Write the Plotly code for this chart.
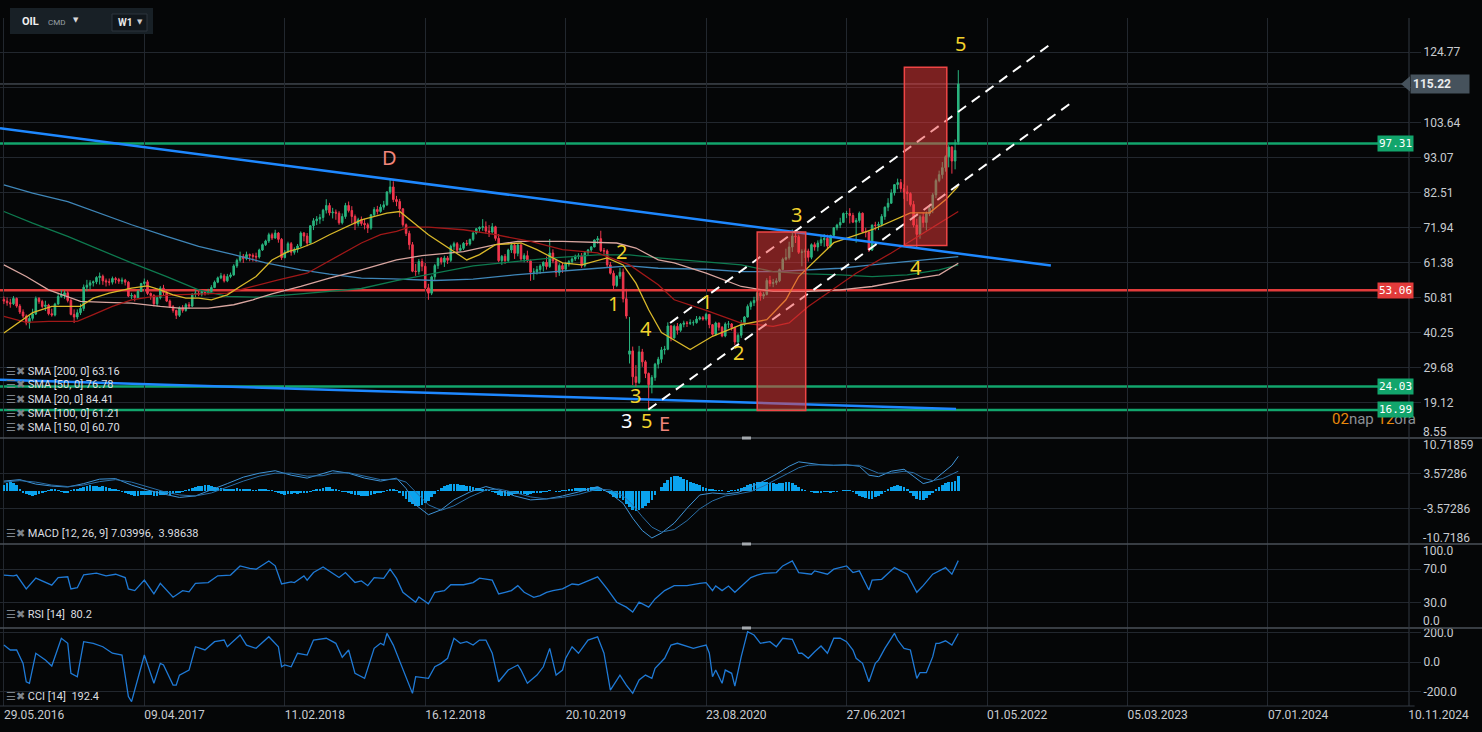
import pandas as pd
import plotly.graph_objects as go
from plotly.subplots import make_subplots

# OIL (CMD) weekly bars, first bar 05.06.2016
first_bar = pd.Timestamp('2016-06-05')

def bar_date(i):
    return first_bar + pd.Timedelta(days=7 * i)

opens = [
    50.3, 49.8, 49.3, 49.0, 50.6, 48.3, 46.5, 45.3, 43.2, 44.6,
    45.9, 50.6, 49.7, 48.2, 48.6, 46.0, 45.6, 48.9, 51.2, 51.6,
    52.3, 50.0, 45.8, 45.0, 46.3, 47.6, 54.0, 54.6, 55.3, 55.6,
    56.9, 57.3, 55.9, 55.6, 55.5, 56.6, 56.3, 55.8, 56.1, 55.5,
    51.3, 51.5, 50.9, 52.7, 55.1, 55.6, 52.1, 51.5, 49.0, 50.8,
    53.7, 52.4, 49.8, 48.1, 47.0, 45.5, 47.8, 47.0, 48.7, 48.3,
    51.9, 52.2, 51.9, 52.6, 52.3, 52.7, 53.9, 55.5, 56.8, 57.4,
    55.9, 57.2, 57.7, 60.4, 62.1, 63.3, 62.6, 63.8, 63.6, 63.3,
    63.1, 65.2, 66.8, 67.9, 69.8, 68.8, 70.3, 68.4, 62.9, 64.6,
    67.1, 64.5, 65.4, 66.4, 70.3, 69.4, 67.3, 72.5, 74.0, 74.5,
    75.0, 77.2, 78.6, 76.4, 76.6, 76.3, 73.4, 75.3, 78.6, 77.1,
    75.3, 73.1, 74.3, 73.2, 72.8, 71.8, 75.8, 77.4, 76.8, 78.1,
    78.8, 82.7, 84.2, 80.4, 79.8, 77.6, 72.8, 70.2, 66.8, 58.8,
    58.7, 61.7, 60.3, 53.8, 52.2, 57.1, 60.5, 62.7, 61.6, 62.8,
    62.1, 66.3, 67.1, 65.1, 65.7, 67.2, 67.0, 68.4, 70.3, 71.6,
    72.0, 72.2, 70.9, 70.6, 72.2, 68.7, 62.0, 63.3, 62.0, 65.2,
    66.6, 64.2, 66.7, 62.5, 63.5, 61.9, 58.5, 58.6, 59.3, 60.4,
    61.5, 60.2, 64.3, 61.9, 58.4, 60.5, 59.4, 61.0, 61.7, 62.5,
    63.3, 63.4, 60.5, 64.4, 65.2, 66.1, 68.2, 68.6, 65.0, 64.9,
    60.7, 58.2, 54.5, 57.3, 58.5, 50.5, 33.8, 34.8, 27.0, 25.3,
    34.5, 31.5, 28.0, 24.6, 26.8, 30.8, 32.3, 35.1, 35.3, 42.3,
    38.7, 42.2, 41.0, 42.8, 43.2, 43.1, 43.3, 43.3, 44.4, 44.8,
    44.4, 45.8, 42.7, 39.8, 43.2, 41.9, 39.3, 42.9, 42.9, 41.8,
    37.5, 39.5, 42.8, 45.0, 48.2, 49.3, 50.0, 52.3, 51.3, 51.8,
    56.0, 55.1, 55.4, 55.9, 59.3, 62.4, 62.9, 66.1, 69.4, 69.2,
    64.5, 64.6, 64.9, 63.0, 66.8, 66.1, 67.3, 68.3, 68.7, 66.4,
    69.6, 71.9, 72.7, 73.5, 76.2, 76.2, 75.6, 73.6, 74.1, 76.3,
    70.7, 70.6, 65.2, 72.7, 72.6, 72.9, 75.3, 78.1, 79.3, 82.4,
    84.9, 85.5, 83.7, 82.7, 82.2, 78.9, 72.7, 69.9, 75.2, 73.5,
    76.1, 77.8, 81.8, 86.1, 87.9, 90.0, 93.3, 96.2, 92.0, 97.8,
]
highs = [
    51.2, 50.9, 50.5, 51.3, 50.9, 48.9, 47.3, 45.8, 45.4, 47.5,
    51.2, 51.0, 50.2, 49.9, 49.0, 47.5, 49.3, 52.3, 53.1, 53.0,
    52.8, 50.5, 47.3, 47.3, 49.0, 54.8, 56.2, 56.1, 56.0, 57.3,
    58.4, 57.8, 56.6, 56.6, 57.2, 57.1, 56.8, 56.9, 56.5, 55.8,
    52.3, 51.9, 53.2, 55.3, 56.6, 56.2, 52.4, 51.9, 51.1, 54.3,
    54.7, 52.9, 50.3, 48.6, 47.2, 48.2, 48.6, 49.2, 49.5, 52.2,
    53.2, 53.3, 53.0, 53.1, 53.5, 54.6, 56.0, 57.2, 58.3, 58.0,
    58.0, 58.4, 60.9, 62.6, 64.7, 64.0, 64.7, 64.1, 64.2, 64.4,
    65.6, 67.2, 68.3, 70.4, 70.4, 71.3, 70.6, 68.8, 65.2, 67.7,
    67.6, 66.0, 67.0, 70.8, 70.6, 70.3, 72.7, 74.8, 75.4, 76.0,
    77.6, 80.5, 79.4, 77.9, 77.4, 76.9, 76.2, 79.4, 79.8, 78.4,
    75.9, 74.9, 75.3, 74.6, 73.4, 76.0, 78.1, 78.5, 79.0, 80.0,
    82.9, 86.3, 85.9, 81.5, 80.6, 77.8, 73.2, 71.0, 67.6, 61.0,
    62.5, 62.6, 61.3, 55.0, 57.5, 61.0, 62.9, 63.1, 63.5, 63.4,
    66.8, 67.7, 67.6, 66.8, 67.6, 68.2, 68.6, 70.6, 71.8, 72.3,
    74.5, 73.8, 72.7, 73.3, 72.5, 70.0, 63.7, 64.0, 65.6, 67.3,
    67.4, 67.0, 67.0, 64.2, 65.0, 62.3, 59.7, 60.4, 60.9, 61.8,
    63.2, 68.5, 65.4, 62.3, 61.2, 61.3, 61.6, 62.2, 63.0, 63.8,
    64.2, 64.3, 64.8, 65.5, 66.4, 68.4, 69.4, 71.0, 65.8, 65.4,
    61.6, 59.0, 57.6, 59.8, 59.6, 53.5, 45.0, 36.1, 30.5, 36.3,
    35.4, 32.0, 28.3, 27.5, 31.2, 33.0, 36.0, 36.3, 43.4, 42.6,
    42.7, 43.2, 43.2, 43.9, 43.8, 44.3, 44.0, 45.3, 45.3, 45.3,
    46.3, 45.9, 42.9, 43.6, 43.3, 42.3, 43.4, 43.8, 43.2, 42.1,
    40.1, 44.1, 45.3, 48.8, 49.9, 51.1, 52.5, 52.8, 52.5, 56.7,
    57.4, 56.5, 56.7, 59.6, 62.9, 65.6, 67.7, 71.4, 71.3, 69.8,
    65.4, 65.6, 65.6, 67.2, 67.5, 68.1, 69.4, 70.0, 69.8, 69.8,
    72.1, 73.1, 74.9, 76.5, 77.0, 77.8, 76.4, 74.8, 76.8, 76.5,
    71.9, 70.9, 72.9, 73.7, 73.7, 76.0, 78.3, 80.8, 83.5, 85.0,
    86.7, 86.6, 85.0, 84.6, 82.6, 80.0, 74.6, 75.8, 76.5, 76.8,
    79.0, 82.4, 86.7, 89.1, 91.7, 93.7, 96.8, 96.5, 98.5, 119.4,
]
lows = [
    48.9, 48.4, 47.8, 48.6, 47.8, 45.9, 44.7, 42.5, 41.5, 43.9,
    45.6, 49.0, 47.6, 46.8, 45.5, 45.1, 45.2, 48.7, 50.8, 50.5,
    49.4, 45.5, 43.2, 44.3, 45.6, 46.8, 52.8, 53.2, 54.2, 54.9,
    54.8, 54.7, 54.2, 54.5, 54.8, 55.1, 55.0, 54.9, 54.5, 51.0,
    50.4, 49.7, 50.6, 52.5, 54.4, 51.6, 50.2, 48.2, 48.2, 50.3,
    51.4, 49.5, 47.7, 46.3, 44.4, 45.0, 46.3, 46.6, 47.5, 48.0,
    51.0, 51.3, 51.2, 51.5, 51.8, 52.4, 53.7, 55.2, 56.4, 55.4,
    55.5, 56.7, 57.4, 59.8, 61.5, 61.3, 62.1, 61.8, 61.7, 61.6,
    62.6, 64.9, 66.4, 67.3, 68.2, 68.6, 67.4, 62.2, 62.7, 64.3,
    63.5, 63.8, 64.4, 65.9, 67.8, 66.3, 67.1, 71.2, 72.7, 73.1,
    73.9, 76.2, 75.6, 74.7, 74.3, 72.8, 72.9, 74.6, 76.5, 73.2,
    71.2, 72.3, 72.5, 71.4, 70.3, 71.3, 75.2, 75.9, 76.4, 77.3,
    78.5, 82.0, 79.6, 78.4, 75.1, 72.2, 69.4, 65.3, 58.5, 57.4,
    57.8, 58.8, 53.4, 50.2, 51.6, 56.0, 59.5, 60.8, 60.1, 61.0,
    61.6, 65.2, 64.5, 64.9, 65.2, 66.4, 66.5, 67.9, 69.9, 70.7,
    71.0, 70.1, 69.1, 70.1, 68.0, 61.5, 60.7, 61.0, 61.6, 64.3,
    62.5, 63.3, 61.8, 61.5, 61.5, 55.9, 56.2, 57.8, 58.0, 58.7,
    59.3, 59.8, 61.2, 57.0, 57.4, 58.3, 58.8, 60.2, 61.0, 61.9,
    62.4, 59.8, 60.0, 63.6, 64.6, 66.0, 67.1, 64.6, 63.4, 59.9,
    57.8, 53.3, 54.0, 56.5, 49.4, 44.5, 31.0, 24.5, 24.0, 24.8,
    30.0, 26.6, 17.0, 22.0, 25.8, 29.5, 31.2, 33.7, 35.0, 37.7,
    38.5, 39.7, 40.5, 41.9, 42.0, 42.6, 42.4, 43.0, 44.0, 43.9,
    43.9, 41.6, 39.4, 39.3, 40.9, 38.9, 38.9, 41.6, 40.9, 36.5,
    37.1, 38.7, 42.3, 44.8, 47.2, 48.3, 49.5, 49.9, 50.4, 51.5,
    54.2, 54.0, 54.7, 55.5, 59.1, 62.0, 62.3, 64.6, 67.3, 64.0,
    60.3, 62.8, 61.7, 62.4, 65.0, 64.8, 66.4, 66.2, 65.4, 65.9,
    68.8, 71.1, 71.8, 73.3, 74.8, 73.2, 73.3, 67.4, 73.4, 70.3,
    69.0, 64.6, 64.9, 71.1, 71.2, 72.3, 74.3, 76.9, 79.1, 81.6,
    83.5, 82.6, 80.6, 79.9, 78.3, 72.0, 65.7, 68.6, 72.0, 71.1,
    75.4, 76.3, 80.8, 85.6, 86.7, 88.8, 90.1, 88.2, 89.5, 97.0,
]
closes = [
    49.8, 49.3, 49.0, 50.6, 48.3, 46.5, 45.3, 43.2, 44.6, 45.9,
    50.6, 49.7, 48.2, 48.6, 46.0, 45.6, 48.9, 51.2, 51.6, 52.3,
    50.0, 45.8, 45.0, 46.3, 47.6, 54.0, 54.6, 55.3, 55.6, 56.9,
    57.3, 55.9, 55.6, 55.5, 56.6, 56.3, 55.8, 56.1, 55.5, 51.3,
    51.5, 50.9, 52.7, 55.1, 55.6, 52.1, 51.5, 49.0, 50.8, 53.7,
    52.4, 49.8, 48.1, 47.0, 45.5, 47.8, 47.0, 48.7, 48.3, 51.9,
    52.2, 51.9, 52.6, 52.3, 52.7, 53.9, 55.5, 56.8, 57.4, 55.9,
    57.2, 57.7, 60.4, 62.1, 63.3, 62.6, 63.8, 63.6, 63.3, 63.1,
    65.2, 66.8, 67.9, 69.8, 68.8, 70.3, 68.4, 62.9, 64.6, 67.1,
    64.5, 65.4, 66.4, 70.3, 69.4, 67.3, 72.5, 74.0, 74.5, 75.0,
    77.2, 78.6, 76.4, 76.6, 76.3, 73.4, 75.3, 78.6, 77.1, 75.3,
    73.1, 74.3, 73.2, 72.8, 71.8, 75.8, 77.4, 76.8, 78.1, 78.8,
    82.7, 84.2, 80.4, 79.8, 77.6, 72.8, 70.2, 66.8, 58.8, 58.7,
    61.7, 60.3, 53.8, 52.2, 57.1, 60.5, 62.7, 61.6, 62.8, 62.1,
    66.3, 67.1, 65.1, 65.7, 67.2, 67.0, 68.4, 70.3, 71.6, 72.0,
    72.2, 70.9, 70.6, 72.2, 68.7, 62.0, 63.3, 62.0, 65.2, 66.6,
    64.2, 66.7, 62.5, 63.5, 61.9, 58.5, 58.6, 59.3, 60.4, 61.5,
    60.2, 64.3, 61.9, 58.4, 60.5, 59.4, 61.0, 61.7, 62.5, 63.3,
    63.4, 60.5, 64.4, 65.2, 66.1, 68.2, 68.6, 65.0, 64.9, 60.7,
    58.2, 54.5, 57.3, 58.5, 50.5, 45.3, 34.8, 27.0, 25.3, 34.5,
    31.5, 28.0, 24.6, 26.8, 30.8, 32.3, 35.1, 35.3, 42.3, 38.7,
    42.2, 41.0, 42.8, 43.2, 43.1, 43.3, 43.3, 44.4, 44.8, 44.4,
    45.8, 42.7, 39.8, 43.2, 41.9, 39.3, 42.9, 42.9, 41.8, 37.5,
    39.5, 42.8, 45.0, 48.2, 49.3, 50.0, 52.3, 51.3, 51.8, 56.0,
    55.1, 55.4, 55.9, 59.3, 62.4, 62.9, 66.1, 69.4, 69.2, 64.5,
    64.6, 64.9, 63.0, 66.8, 66.1, 67.3, 68.3, 68.7, 66.4, 69.6,
    71.9, 72.7, 73.5, 76.2, 76.2, 75.6, 73.6, 74.1, 76.3, 70.7,
    70.6, 65.2, 72.7, 72.6, 72.9, 75.3, 78.1, 79.3, 82.4, 84.9,
    85.5, 83.7, 82.7, 82.2, 78.9, 72.7, 69.9, 75.2, 73.5, 76.1,
    77.8, 81.8, 86.1, 87.9, 90.0, 93.3, 96.2, 92.0, 95.2, 115.2,
]

# moving averages (bar index, value)
sma20_idx = [0, 5, 9, 15, 24, 28, 33, 40, 45, 49, 53, 57, 61, 65, 70, 74, 79, 84, 89, 93,
             97, 102, 112, 120, 124, 133, 140, 145, 149, 154, 162, 167, 175, 181, 189, 194,
             198, 202, 206, 215, 222, 231, 239, 245, 249, 260, 272, 284, 290, 295, 299]
sma20_val = [40.2, 43.7, 46.3, 48.2, 48.2, 50.7, 52.2, 53.7, 54.4, 53.2, 51.7, 50.7, 50.7, 50.2,
             51.7, 54.2, 57.2, 62.2, 64.7, 65.8, 67.3, 69.8, 74.3, 76.3, 76.8, 69.8, 65.3, 62.2,
             63.8, 66.8, 67.3, 65.3, 61.3, 60.7, 62.8, 60.7, 55.2, 47.2, 40.3, 35.2, 39.2, 42.7,
             44.2, 50.2, 57.2, 67.4, 71.3, 76.4, 76.4, 80.3, 84.4]
sma50_idx = [0, 7, 14, 23, 28, 34, 40, 47, 53, 61, 70, 78, 86, 95, 102, 112, 118, 123, 127, 133,
             144, 154, 165, 175, 186, 196, 205, 210, 220, 231, 241, 246, 252, 258, 267, 278, 288, 299]
sma50_val = [45.2, 43.4, 43.7, 43.7, 45.7, 48.2, 50.2, 51.2, 51.7, 52.0, 52.2, 54.2, 56.2, 58.2,
             62.0, 67.3, 69.8, 70.8, 72.1, 72.1, 71.3, 69.8, 67.8, 65.3, 64.3, 60.7, 54.7, 50.2,
             47.0, 43.2, 42.2, 43.2, 48.2, 52.2, 58.2, 64.3, 70.3, 76.8]
sma100_idx = [0, 7, 14, 24, 32, 40, 49, 55, 64, 72, 78, 84, 93, 102, 112, 123, 131, 144, 154, 161,
              175, 192, 198, 205, 210, 220, 231, 241, 252, 262, 272, 283, 293, 299]
sma100_val = [60.7, 57.2, 53.2, 49.7, 49.4, 49.2, 48.2, 47.7, 47.7, 48.7, 50.2, 52.0, 54.2, 56.7,
              59.2, 62.2, 63.5, 64.7, 66.8, 67.8, 67.8, 67.3, 65.8, 62.2, 61.3, 58.2, 54.2, 52.7,
              52.7, 53.2, 54.2, 56.2, 57.7, 61.2]
sma150_idx = [0, 9, 20, 30, 40, 51, 61, 70, 80, 93, 102, 112, 123, 135, 147, 160, 172, 186, 196, 205,
              210, 220, 231, 241, 252, 262, 272, 283, 293, 299]
sma150_val = [76.8, 73.3, 69.3, 65.3, 61.3, 57.2, 53.2, 51.2, 51.0, 52.0, 52.7, 53.6, 56.0, 58.2,
              60.4, 61.7, 62.8, 63.7, 63.7, 62.8, 62.4, 61.7, 60.7, 58.7, 58.0, 57.7, 57.2, 57.7,
              59.2, 60.7]
sma200_idx = [0, 9, 20, 30, 40, 51, 61, 72, 82, 93, 102, 112, 122, 135, 147, 160, 172, 186, 196, 205,
              220, 231, 241, 252, 262, 272, 283, 299]
sma200_val = [84.8, 82.3, 79.8, 76.3, 72.8, 69.3, 66.3, 63.8, 61.3, 59.2, 57.9, 56.7, 56.5, 56.0,
              56.4, 57.7, 58.7, 59.7, 60.4, 59.7, 59.4, 58.7, 58.7, 59.2, 59.7, 60.7, 61.7, 63.2]

# MACD [12, 26, 9]
macd_hist = [
    1.2, 1.6, 1.9, 1.7, 1.2, 0.4, -0.3, -0.6, -0.9, -1.0,
    -0.8, -0.6, -0.4, -0.2, 0.1, 0.3, 0.4, 0.2, -0.2, -0.4,
    -0.3, 0.1, 0.3, 0.5, 0.7, 0.9, 1.1, 1.2, 1.1, 1.0,
    0.9, 1.0, 0.8, 0.7, 0.5, 0.3, 0.1, -0.2, -0.5, -0.7,
    -0.9, -1.0, -1.1, -0.9, -0.8, -0.8, -0.9, -1.0, -1.1, -0.9,
    -0.8, -0.7, -0.8, -0.7, -0.5, -0.4, -0.2, 0.1, 0.4, 0.6,
    0.8, 1.0, 1.1, 1.2, 1.2, 1.1, 0.9, 0.7, 0.6, 0.4,
    0.3, 0.4, 0.5, 0.6, 0.5, 0.4, 0.3, 0.3, 0.2, 0.2,
    0.3, 0.4, 0.3, 0.2, 0.1, -0.1, -0.3, -0.6, -0.8, -0.7,
    -0.6, -0.5, -0.6, -0.4, -0.3, -0.3, -0.2, 0.1, 0.3, 0.5,
    0.7, 0.9, 0.8, 0.5, 0.3, 0.1, -0.1, -0.2, -0.4, -0.6,
    -0.8, -0.9, -1.0, -1.1, -1.0, -0.9, -0.7, -0.5, -0.3, -0.1,
    0.2, 0.4, 0.3, 0.1, -0.4, -1.0, -1.6, -2.2, -2.7, -3.0,
    -3.1, -2.8, -2.4, -2.0, -1.3, -0.6, 0.1, 0.6, 1.0, 1.3,
    1.5, 1.5, 1.4, 1.3, 1.2, 1.1, 1.0, 0.9, 0.7, 0.6,
    0.5, 0.3, 0.1, -0.2, -0.5, -0.8, -1.0, -1.1, -1.0, -0.9,
    -0.7, -0.6, -0.6, -0.7, -0.8, -0.7, -0.5, -0.4, -0.3, -0.2,
    -0.1, 0.1, 0.0, -0.2, -0.1, 0.1, 0.2, 0.4, 0.5, 0.6,
    0.6, 0.7, 0.6, 0.7, 0.8, 0.9, 0.8, 0.6, 0.3, -0.2,
    -0.7, -1.2, -1.4, -1.5, -1.9, -2.6, -3.3, -3.8, -4.1, -3.9,
    -3.5, -3.0, -2.5, -1.8, -0.9, 0.0, 0.8, 1.6, 2.3, 2.8,
    3.0, 3.0, 2.8, 2.5, 2.2, 1.9, 1.7, 1.4, 1.2, 0.9,
    0.7, 0.5, 0.3, 0.2, 0.1, 0.1, 0.0, -0.1, 0.1, 0.2,
    0.3, 0.6, 0.9, 1.2, 1.5, 1.7, 1.8, 1.9, 1.8, 1.9,
    1.7, 1.6, 1.5, 1.6, 1.7, 1.9, 1.9, 1.6, 1.2, 0.8,
    0.5, 0.2, 0.0, -0.2, -0.3, -0.3, -0.3, -0.2, -0.2, -0.3,
    -0.2, -0.1, 0.0, 0.2, 0.2, 0.1, -0.2, -0.6, -1.0, -1.3,
    -1.5, -1.6, -1.6, -1.3, -1.0, -0.6, -0.2, 0.4, 0.8, 1.1,
    1.2, 1.1, 0.8, 0.3, -0.4, -1.1, -1.7, -1.9, -1.8, -1.4,
    -0.9, -0.4, 0.3, 0.8, 1.3, 1.6, 1.8, 1.9, 2.0, 3.05,
]
macd_idx = [0, 5, 10, 15, 20, 25, 30, 35, 40, 45, 50, 55, 60, 65, 70, 75, 80, 85, 90, 95,
            100, 103, 108, 113, 118, 123, 126, 129, 133, 137, 141, 146, 151, 155, 160, 165, 170,
            175, 180, 186, 190, 194, 197, 200, 203, 206, 210, 214, 218, 222, 226, 230, 234, 238,
            242, 246, 249, 252, 256, 260, 264, 268, 271, 274, 278, 282, 285, 288, 291, 294, 297, 299]
macd_line = [2.0, 2.3, 1.4, 1.0, 0.8, 1.5, 2.4, 2.5, 1.2, 0.2, -0.6, -1.3, -1.0, 0.2, 1.5,
             2.8, 3.6, 4.1, 3.2, 2.6, 3.6, 4.1, 3.6, 2.6, 2.0, 2.6, 0.5, -2.8, -4.8, -3.8,
             -1.8, -0.2, 0.9, 0.2, -1.0, -1.8, -1.6, -1.0, -0.2, 0.9, -0.5, -2.5, -5.5, -8.0, -9.5,
             -8.5, -6.5, -3.5, -0.8, -0.4, -0.6, -0.3, 0.8, 2.0, 3.4, 5.0, 5.9, 5.7, 5.3, 5.2,
             5.3, 5.0, 3.2, 2.9, 4.0, 4.4, 3.0, 1.5, 2.0, 3.6, 5.2, 7.0]
signal_line = [1.8, 2.1, 1.8, 1.2, 0.9, 1.2, 1.9, 2.3, 1.8, 0.9, -0.1, -0.8, -1.0, -0.4, 0.8,
               2.0, 3.0, 3.6, 3.6, 3.0, 3.1, 3.6, 3.7, 3.0, 2.3, 2.4, 1.8, -0.2, -2.8, -3.9,
               -3.0, -1.2, 0.2, 0.4, -0.3, -1.2, -1.6, -1.3, -0.7, 0.4, 0.2, -1.0, -2.8, -5.2, -7.3,
               -8.3, -7.8, -6.0, -3.6, -2.0, -1.0, -0.6, -0.1, 1.0, 2.4, 3.8, 4.7, 5.2, 5.3, 5.2,
               5.2, 5.2, 4.4, 3.6, 3.6, 4.0, 3.7, 2.6, 2.1, 2.5, 3.4, 4.0]

# RSI [14]
rsi_idx = [0, 3, 4, 7, 10, 13, 15, 17, 20, 21, 23, 25, 29, 32, 35, 38, 39, 41, 44, 47,
           49, 53, 56, 58, 60, 64, 67, 71, 74, 77, 79, 83, 85, 87, 90, 91, 94, 95, 97, 100,
           102, 105, 107, 110, 112, 114, 116, 119, 121, 123, 125, 129, 130, 133, 135, 138, 140, 144, 147, 149,
           153, 155, 157, 159, 161, 163, 166, 168, 170, 172, 175, 178, 180, 183, 186, 189, 192, 195, 197, 199,
           202, 204, 207, 210, 214, 218, 220, 222, 223, 225, 227, 229, 234, 236, 238, 242, 244, 247, 249, 253,
           254, 258, 260, 264, 266, 268, 271, 272, 275, 279, 283, 286, 288, 291, 295, 297, 299]
rsi_val = [63, 62, 63, 46.5, 59.4, 54.2, 51, 60.1, 61, 46.5, 48, 63.3, 65.3, 62, 64, 60, 46.5, 44.5, 57.1, 40.6,
           53.1, 36.6, 44.5, 43, 53.1, 54, 62.1, 63, 73.9, 71, 70, 79.8, 74, 52.4, 55, 54, 62, 57, 66, 72.7,
           68, 60.1, 66, 54.2, 56, 50.4, 60, 59, 70, 59, 42.5, 30.7, 37, 28.8, 42.5, 44.5, 51.5, 51.5, 54, 59.4,
           57, 40.6, 42.5, 44.5, 50.4, 42.5, 36.6, 38.6, 42.5, 44.5, 46.5, 52.4, 51.5, 56, 60.9, 46.5, 30.7, 24.8, 18.9, 30.7,
           24.8, 34.6, 44.5, 50.4, 50.4, 53.1, 54, 44.5, 50, 44.5, 50, 42.5, 60.1, 63, 65, 66, 73.9, 79.8, 66, 64,
           68, 64, 70, 73.9, 66, 68, 45.3, 57.1, 58, 71.9, 64.1, 42.5, 50.4, 64.1, 71.9, 64, 80.2]

# CCI [14]
cci_idx = [0, 2, 4, 6, 7, 8, 10, 13, 15, 18, 20, 21, 23, 25, 28, 31, 34, 37, 39, 40,
           44, 47, 49, 50, 53, 54, 55, 58, 60, 63, 66, 69, 70, 74, 76, 79, 83, 86, 87, 88,
           90, 92, 95, 97, 101, 104, 106, 108, 110, 113, 116, 118, 119, 120, 122, 125, 128, 129, 132, 133,
           135, 137, 139, 141, 143, 145, 147, 149, 151, 153, 155, 158, 161, 162, 164, 167, 169, 171, 173, 175,
           176, 178, 180, 183, 186, 188, 190, 193, 195, 197, 199, 201, 203, 204, 207, 209, 211, 216, 218, 220,
           221, 222, 223, 225, 226, 228, 229, 231, 233, 235, 237, 240, 242, 244, 247, 249, 250, 252, 254, 256,
           258, 260, 262, 264, 266, 267, 269, 271, 273, 274, 276, 279, 280, 282, 284, 286, 287, 289, 291, 292,
           293, 295, 297, 299]
cci_val = [114, 81, 81, -9, -133, -143, 59, 13, -27, 160, 126, -76, -99, 137, 126, 103, 59, 47, -233, -267,
           47, -143, -9, -20, -155, -155, -88, -54, 103, 81, 137, 148, 103, 182, 114, 92, 170, 103, -32, -20,
           -32, 59, 47, 148, 160, 126, 32, 81, -76, -110, 92, 126, 114, 193, 114, -54, -211, -99, -110, -110,
           -32, -9, 25, 160, 126, 137, 114, 148, 148, 59, -133, -54, -20, -54, -143, -88, -32, 92, -88, -54,
           25, 103, 59, 148, 170, 59, -189, -88, -155, -211, -121, -88, -110, -42, 25, 114, 126, 92, 103, 114,
           59, -99, -54, -143, -54, -76, -162, 36, 204, 182, 126, 137, 103, 160, 153, 59, 59, 25, 69, 108,
           59, 160, 160, 137, 81, 25, -9, -133, -9, 13, 92, 193, 148, 92, 81, -110, -72, -72, 36, 126,
           126, 143, 114, 192]

# drawn objects (bar index, price)
trend_upper_i = [-1.22, 328.0]
trend_upper_p = [101.9, 60.5]
trend_lower_i = [-1.22, 298.3]
trend_lower_p = [26.1, 17.3]
channel_top_i = [208.7, 328.3]
channel_top_p = [43.2, 127.5]
channel_bottom_i = [201.9, 334.9]
channel_bottom_p = [17.1, 109.9]
box_i = [(236.0, 251.2), (282.1, 295.4)]
box_p = [(16.8, 70.6), (66.55, 120.25)]
level_values = [97.31, 53.06, 24.03, 16.99]
level_colors = ['#12a56c', '#e23b3b', '#12a56c', '#12a56c']
last_price = 115.22

wave_text = ['D', '1', '2', '4', '3', '3', '5', 'E', '1', '2', '3', '4', '5']
wave_i = [120.7, 191.1, 193.6, 201.2, 198.0, 195.2, 201.2, 207.1, 220.0, 230.0, 248.2, 285.7, 299.8]
wave_p = [93.0, 49.0, 64.6, 41.5, 21.4, 13.8, 13.8, 12.9, 49.6, 34.2, 75.8, 59.8, 127.3]
wave_color = ['#f0857a', '#f2d22c', '#f2d22c', '#f2d22c', '#f2d22c', '#ffffff', '#f2d22c', '#f0857a',
              '#f2d22c', '#f2d22c', '#f2d22c', '#f2d22c', '#f2d22c']

price_ticks = [19.12, 29.68, 40.25, 50.81, 61.38, 71.94, 82.51, 93.07, 103.64, 114.20, 124.77]
# the platform's axis counts bars: its first grid line (29.05.2016) sits on the first bar
date_ticks = ['2016-06-05', '2017-04-09', '2018-02-11', '2018-12-16', '2019-10-20', '2020-08-23',
              '2021-06-27', '2022-05-01', '2023-03-05', '2024-01-07', '2024-11-10']
date_labels = ['29.05.2016', '09.04.2017', '11.02.2018', '16.12.2018', '20.10.2019', '23.08.2020',
               '27.06.2021', '01.05.2022', '05.03.2023', '07.01.2024', '10.11.2024']

sma_legend = ['SMA [200, 0] 63.16', 'SMA [50, 0] 76.78', 'SMA [20, 0] 84.41',
              'SMA [100, 0] 61.21', 'SMA [150, 0] 60.70']

bg = '#050607'
grid = '#22272e'
axis_text = '#c8cbd0'
up_color = '#29b47e'
down_color = '#f0374d'

dates = [bar_date(i) for i in range(len(closes))]

fig = make_subplots(rows=4, cols=1, shared_xaxes=True, vertical_spacing=0,
                    row_heights=[420, 106, 84, 78])

fig.add_trace(go.Candlestick(
    x=dates, open=opens, high=highs, low=lows, close=closes,
    increasing=dict(line=dict(color=up_color, width=1), fillcolor=up_color),
    decreasing=dict(line=dict(color=down_color, width=1), fillcolor=down_color),
    whiskerwidth=0, hoverinfo='skip', showlegend=False
), row=1, col=1)

# moving averages
for idx, val, color in [
    (sma200_idx, sma200_val, '#3f86b8'),
    (sma150_idx, sma150_val, '#0e7a4f'),
    (sma100_idx, sma100_val, '#d9a6a0'),
    (sma50_idx, sma50_val, '#a01818'),
    (sma20_idx, sma20_val, '#d9b82a'),
]:
    fig.add_trace(go.Scatter(
        x=[bar_date(i) for i in idx], y=val, mode='lines',
        line=dict(color=color, width=1.3), hoverinfo='skip', showlegend=False
    ), row=1, col=1)

# trend lines
for xs, ys in [(trend_upper_i, trend_upper_p), (trend_lower_i, trend_lower_p)]:
    fig.add_trace(go.Scatter(
        x=[bar_date(i) for i in xs], y=ys, mode='lines',
        line=dict(color='#1e88ff', width=2.5), hoverinfo='skip', showlegend=False
    ), row=1, col=1)
for xs, ys in [(channel_top_i, channel_top_p), (channel_bottom_i, channel_bottom_p)]:
    fig.add_trace(go.Scatter(
        x=[bar_date(i) for i in xs], y=ys, mode='lines',
        line=dict(color='#ffffff', width=2, dash='10px,7px'), hoverinfo='skip', showlegend=False
    ), row=1, col=1)

# MACD
fig.add_trace(go.Bar(
    x=dates, y=macd_hist, marker=dict(color='#0aa3ee', line=dict(width=0)),
    width=7 * 86400000 * 0.85, hoverinfo='skip', showlegend=False
), row=2, col=1)
fig.add_trace(go.Scatter(
    x=[bar_date(i) for i in macd_idx], y=macd_line, mode='lines',
    line=dict(color='#3e93d6', width=1), hoverinfo='skip', showlegend=False
), row=2, col=1)
fig.add_trace(go.Scatter(
    x=[bar_date(i) for i in macd_idx], y=signal_line, mode='lines',
    line=dict(color='#2a6ea6', width=1), hoverinfo='skip', showlegend=False
), row=2, col=1)

# RSI / CCI
fig.add_trace(go.Scatter(
    x=[bar_date(i) for i in rsi_idx], y=rsi_val, mode='lines',
    line=dict(color='#1f7ad6', width=1.3), hoverinfo='skip', showlegend=False
), row=3, col=1)
fig.add_trace(go.Scatter(
    x=[bar_date(i) for i in cci_idx], y=cci_val, mode='lines',
    line=dict(color='#1f7ad6', width=1.3), hoverinfo='skip', showlegend=False
), row=4, col=1)

x_range = [pd.Timestamp('2016-05-27 11:00'), pd.Timestamp('2024-11-11 10:00')]
fig.update_xaxes(range=x_range, tickvals=date_ticks, ticktext=date_labels,
                 showgrid=True, gridcolor=grid, gridwidth=1, zeroline=False,
                 showline=False, rangeslider_visible=False, ticks='')
fig.update_xaxes(row=4, col=1, showticklabels=True, ticklabelposition='outside right',
                 tickfont=dict(family='Roboto', size=12, color=axis_text))

yaxis_common = dict(side='right', showgrid=True, gridcolor=grid, gridwidth=1, zeroline=False,
                    showline=False, ticks='outside', ticklen=11, tickcolor=grid,
                    tickfont=dict(family='Roboto', size=12, color=axis_text))
fig.update_yaxes(row=1, col=1, range=[8.55, 135.1], tickvals=price_ticks,
                 ticktext=['%.2f' % v if abs(v - 114.20) > 0.01 else '' for v in price_ticks],
                 **yaxis_common)
fig.update_yaxes(row=2, col=1, range=[-10.7186, 10.7186], tickvals=[-3.57286, 3.57286],
                 ticktext=['-3.57286', '3.57286'], **yaxis_common)
fig.update_yaxes(row=3, col=1, range=[0, 100], tickvals=[30, 70],
                 ticktext=['30.0', '70.0'], **yaxis_common)
fig.update_yaxes(row=4, col=1, range=[-296, 229], tickvals=[-200, 0, 200],
                 ticktext=['-200.0', '0.0', '200.0'], **yaxis_common)

shapes = []
# horizontal levels
for v, c in zip(level_values, level_colors):
    shapes.append(dict(type='line', xref='x domain', yref='y', x0=0, x1=1, y0=v, y1=v,
                       line=dict(color=c, width=2.5), layer='below'))
shapes.append(dict(type='line', xref='x domain', yref='y', x0=0, x1=1, y0=last_price, y1=last_price,
                   line=dict(color='#5b6570', width=1), layer='below'))
# boxes
for (i0, i1), (p0, p1) in zip(box_i, box_p):
    shapes.append(dict(type='rect', xref='x', yref='y', x0=bar_date(i0), x1=bar_date(i1), y0=p0, y1=p1,
                       fillcolor='rgba(240,58,58,0.5)', line=dict(color='#f04545', width=1.5),
                       layer='above'))
# panel separators and frame
for yp in [0.3895, 0.2355, 0.1134]:
    shapes.append(dict(type='line', xref='paper', yref='paper', x0=0, x1=1.052, y0=yp, y1=yp,
                       line=dict(color='#4a5059', width=1.5), layer='above'))
    shapes.append(dict(type='rect', xref='paper', yref='paper', x0=742 / 1409, x1=751 / 1409,
                       y0=yp - 1.5 / 688, y1=yp + 1.5 / 688, fillcolor='#a4a9ae',
                       line=dict(width=0), layer='above'))
shapes.append(dict(type='line', xref='paper', yref='paper', x0=1, x1=1, y0=0, y1=1,
                   line=dict(color='#323842', width=1), layer='above'))
shapes.append(dict(type='line', xref='paper', yref='paper', x0=0, x1=1.004, y0=0, y1=0,
                   line=dict(color='#323842', width=1), layer='above'))
# last price tag arrow
shapes.append(dict(type='path', xref='paper', yref='y',
                   path='M 1.0007,%f L 0.9943,%f L 1.0007,%f Z' % (last_price + 2.3, last_price, last_price - 2.3),
                   fillcolor='#46525c', line=dict(width=0), layer='above'))
# toolbar
shapes.append(dict(type='rect', xref='paper', yref='paper', x0=10 / 1409, x1=153 / 1409,
                   y0=(706 - 34) / 688, y1=(706 - 8) / 688, fillcolor='#182026',
                   line=dict(width=0), layer='above'))
shapes.append(dict(type='rect', xref='paper', yref='paper', x0=112 / 1409, x1=147 / 1409,
                   y0=(706 - 31) / 688, y1=(706 - 14) / 688, fillcolor='#11171c',
                   line=dict(color='#2c353d', width=1), layer='above'))

annotations = []
for t, i, p, c in zip(wave_text, wave_i, wave_p, wave_color):
    annotations.append(dict(x=bar_date(i), y=p, xref='x', yref='y', text=t, showarrow=False,
                            font=dict(family='Noto Sans', size=20, color=c)))

# legends of indicators
icons = "<span style='color:#7d848c'>☰✖</span> "
legend_y = [371, 385, 399, 413, 427]
for txt, ypx in zip(sma_legend, legend_y):
    annotations.append(dict(x=0.003, y=(706 - ypx) / 688, xref='paper', yref='paper',
                            xanchor='left', yanchor='middle', text=icons + txt, showarrow=False,
                            font=dict(family='Roboto', size=11, color='#dcdee0')))
for txt, ypx in [('MACD [12, 26, 9] 7.03996,  3.98638', 533), ('RSI [14]  80.2', 614),
                 ('CCI [14]  192.4', 696)]:
    annotations.append(dict(x=0.003, y=(706 - ypx) / 688, xref='paper', yref='paper',
                            xanchor='left', yanchor='middle', text=icons + txt, showarrow=False,
                            font=dict(family='Roboto', size=11, color='#dcdee0')))

# edge labels of the value axes
for txt, ypx in [('8.55', 432), ('10.71859', 445), ('-10.7186', 538), ('100.0', 551), ('0.0', 621)]:
    annotations.append(dict(x=1421 / 1409, y=(706 - ypx) / 688, xref='paper', yref='paper',
                            xanchor='left', yanchor='middle', text=txt, showarrow=False,
                            font=dict(family='Roboto', size=12, color=axis_text)))

# bar countdown (partly under the 16.99 tag, as on the platform)
annotations.append(dict(x=1330 / 1409, y=(706 - 419) / 688, xref='paper', yref='paper',
                        xanchor='left', yanchor='middle', showarrow=False,
                        text="<span style='color:#e8890c'>02</span>nap <span style='color:#e8890c'>12</span>óra",
                        font=dict(family='Roboto', size=15, color='#8b9096')))

# level tags
for v, c in zip(level_values, level_colors):
    annotations.append(dict(x=1414 / 1409, y=v, xref='paper', yref='y', xanchor='right',
                            yanchor='middle', text='%.2f' % v, showarrow=False, bgcolor=c,
                            borderpad=1, font=dict(family='DejaVu Sans Mono', size=11, color='#ffffff')))
annotations.append(dict(x=1410 / 1409, y=last_price, xref='paper', yref='y', xanchor='left',
                        yanchor='middle', text='<b>%.2f</b>' % last_price, showarrow=False,
                        bgcolor='#46525c', borderpad=2, width=54, align='left',
                        font=dict(family='Roboto', size=12, color='#e9ebed')))

# toolbar text
annotations.append(dict(x=20 / 1409, y=(706 - 21) / 688, xref='paper', yref='paper', xanchor='left',
                        yanchor='middle', showarrow=False, text='<b>OIL</b>',
                        font=dict(family='Roboto', size=11, color='#f0f0f0')))
annotations.append(dict(x=46 / 1409, y=(706 - 22) / 688, xref='paper', yref='paper', xanchor='left',
                        yanchor='middle', showarrow=False, text='CMD',
                        font=dict(family='Roboto', size=8, color='#9aa0a6')))
annotations.append(dict(x=71 / 1409, y=(706 - 20) / 688, xref='paper', yref='paper', xanchor='left',
                        yanchor='middle', showarrow=False, text='▼',
                        font=dict(family='DejaVu Sans', size=7, color='#d8dadc')))
annotations.append(dict(x=116 / 1409, y=(706 - 22) / 688, xref='paper', yref='paper', xanchor='left',
                        yanchor='middle', showarrow=False, text='<b>W1</b>',
                        font=dict(family='Roboto', size=10, color='#e8e8e8')))
annotations.append(dict(x=135 / 1409, y=(706 - 22) / 688, xref='paper', yref='paper', xanchor='left',
                        yanchor='middle', showarrow=False, text='▼',
                        font=dict(family='DejaVu Sans', size=7, color='#c8cacc')))

fig.update_layout(
    width=1482, height=732,
    margin=dict(l=0, r=73, t=18, b=26),
    paper_bgcolor=bg, plot_bgcolor=bg,
    showlegend=False, hovermode=False,
    bargap=0,
    shapes=shapes, annotations=annotations,
    xaxis_rangeslider_visible=False,
)

# page without the default body margin so the chart sits at the window's corner
fig.write_html("out.html", config={'displayModeBar': False},
               post_script="document.body.style.margin='0';document.body.style.background='#050607';")
